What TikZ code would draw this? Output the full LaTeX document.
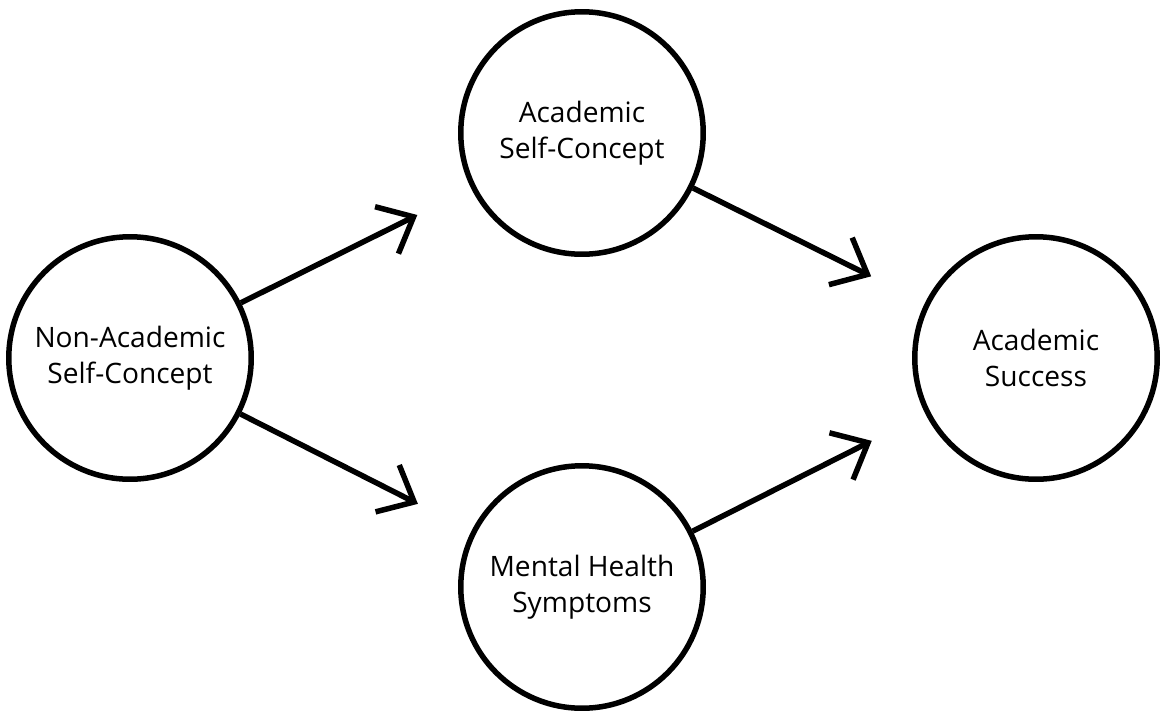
\documentclass[tikz,border=0pt]{standalone}
\usepackage{fontspec}
\setmainfont{Open Sans}
\usetikzlibrary{arrows.meta}

\begin{document}
\begin{tikzpicture}[x=0.02cm, y=-0.02cm,
  construct/.style={circle, draw=black, line width=0.11cm, minimum size=4.85cm,
    inner sep=0pt, align=center,
    font=\fontsize{16pt}{20.5pt}\selectfont},
  path arrow/.style={line width=0.11cm,
    -{Straight Barb[length=0.6cm, width=1.05cm]},
    shorten >=1.2cm}
]
\useasboundingbox (0,0) rectangle (1163,711);

\node[construct] (nasc) at (130,358)  {Non-Academic\\Self-Concept};
\node[construct] (asc)  at (582,133)  {Academic\\Self-Concept};
\node[construct] (mhs)  at (582,587)  {Mental Health\\Symptoms};
\node[construct] (succ) at (1036,358) {Academic\\Success};

\draw[path arrow] (nasc) -- (asc);
\draw[path arrow] (nasc) -- (mhs);
\draw[path arrow] (asc)  -- (succ);
\draw[path arrow] (mhs)  -- (succ);
\end{tikzpicture}
\end{document}
